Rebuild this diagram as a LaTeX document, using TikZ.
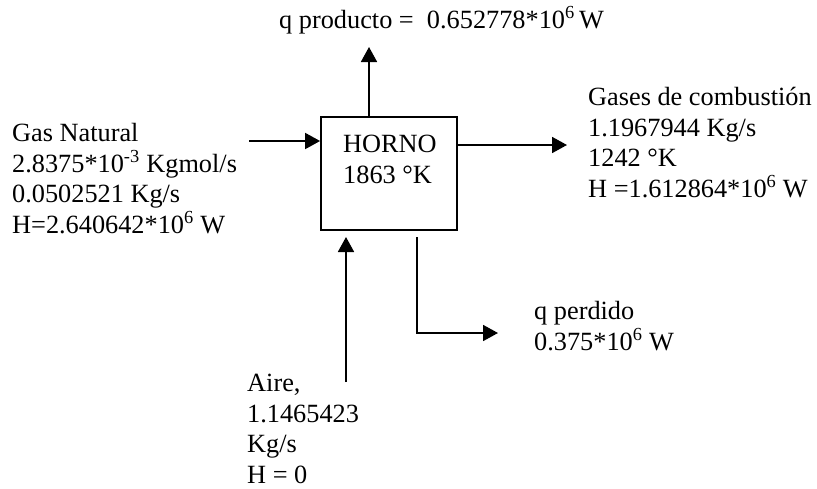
\documentclass[tikz,border=0pt]{standalone}
\usepackage{fontspec}
\setmainfont{Liberation Serif}
\usetikzlibrary{arrows.meta}
\begin{document}
\begin{tikzpicture}[x=1pt,y=-1pt,
  lbl/.style={anchor=base west,inner sep=0pt,align=left,font=\fontsize{26.3}{30.5}\selectfont},
  arr/.style={line width=1.8pt,-{Triangle[length=15pt,width=16pt]}},
  boxst/.style={draw,line width=1.8pt,minimum width=136pt,minimum height=113pt,inner sep=0pt}]
\useasboundingbox (0,0) rectangle (817,488);
\node[boxst] (box) at (389,173.5) {};
\node[lbl] (horno) at (343,183) {HORNO\\1863 °K};
\node[lbl] (gas) at (12,233) {Gas Natural\\2.8375*10\textsuperscript{-3} Kgmol/s\\0.0502521 Kg/s\\H=2.640642*10\textsuperscript{6} W};
\node[lbl] (prod) at (279,28) {q producto =\ \ 0.652778*10\textsuperscript{6}\,W};
\node[lbl] (gases) at (588,197) {Gases de combustión\\1.1967944 Kg/s\\1242 °K\\H =1.612864*10\textsuperscript{6} W};
\node[lbl] (aire) at (247,483) {Aire,\\1.1465423\\Kg/s\\H = 0};
\node[lbl] (perd) at (534,350) {q perdido\\0.375*10\textsuperscript{6} W};
\coordinate (gin) at (249,141);
\coordinate (ptop) at (369,47);
\coordinate (rout) at (567,145);
\coordinate (ain) at (346,382);
\coordinate (aend) at (346,237);
\coordinate (qs) at (417,237);
\coordinate (qe) at (498,333);
\draw[arr] (gin) -- (gin -| box.west);
\draw[arr] (ptop |- box.north) -- (ptop);
\draw[arr] (rout -| box.east) -- (rout);
\draw[arr] (ain) -- (aend);
\draw[arr] (qs) -- (qs |- qe) -- (qe);
\end{tikzpicture}
\end{document}
